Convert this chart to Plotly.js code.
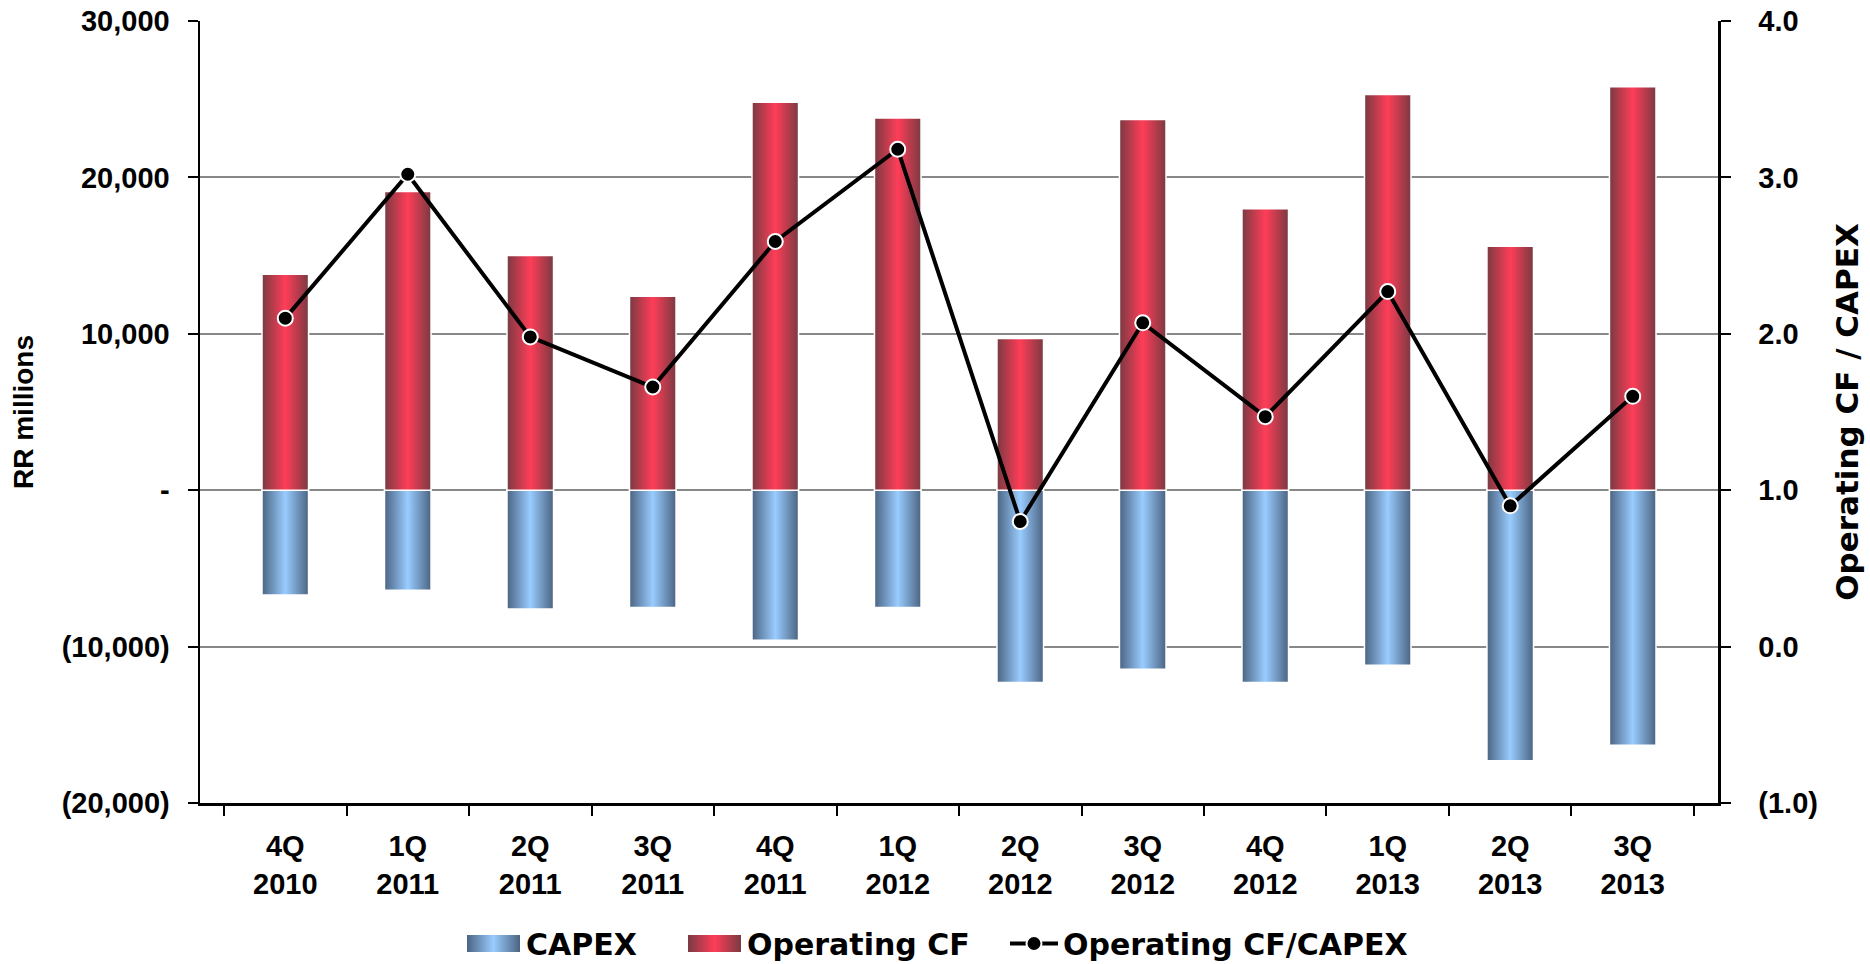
<!DOCTYPE html>
<html>
<head>
<meta charset="utf-8">
<script src="https://cdn.plot.ly/plotly-3.0.1.min.js"></script>
<style>
html,body{margin:0;padding:0;background:#fff;}
#chart{width:1870px;height:964px;}
</style>
</head>
<body>
<div id="chart"></div>
<script>
var quarters = ["4Q<br>2010","1Q<br>2011","2Q<br>2011","3Q<br>2011","4Q<br>2011","1Q<br>2012","2Q<br>2012","3Q<br>2012","4Q<br>2012","1Q<br>2013","2Q<br>2013","3Q<br>2013"];
var capex = [-6700,-6400,-7600,-7500,-9600,-7500,-12300,-11450,-12300,-11200,-17300,-16300];
var operatingCF = [13800,19100,15000,12400,24800,23800,9700,23700,18000,25300,15600,25800];
var ratio = [2.10,3.02,1.98,1.66,2.59,3.18,0.80,2.07,1.47,2.27,0.90,1.60];
var leftTickVals = [30000,20000,10000,0,-10000,-20000];
var leftTickText = ["30,000","20,000","10,000","-","(10,000)","(20,000)"];
var rightTickVals = [4,3,2,1,0,-1];
var rightTickText = ["4.0","3.0","2.0","1.0","0.0","(1.0)"];

var TICKFONT = {family:"Liberation Sans, Arial, sans-serif", size:29, color:"#000", weight:700};
var LTITLEFONT = {family:"Liberation Sans, Arial, sans-serif", size:28, color:"#000", weight:700};
var RTITLEFONT = {family:"DejaVu Sans, sans-serif", size:31, color:"#000", weight:700};
var LEGFONT = {family:"DejaVu Sans, sans-serif", size:30, color:"#000", weight:700};

var traces = [
  {type:"bar", name:"CAPEX", x:quarters, y:capex, legend:"legend",
   marker:{color:"#99ccff", line:{color:"#ffffff", width:1.5}}},
  {type:"bar", name:"Operating CF", x:quarters, y:operatingCF, legend:"legend2",
   marker:{color:"#ff3d58", line:{color:"#ffffff", width:1.5}}},
  {type:"scatter", mode:"lines+markers", name:"Operating CF/CAPEX", x:quarters, y:ratio, yaxis:"y2", legend:"legend3",
   line:{color:"#000", width:4},
   marker:{color:"#000", size:15, line:{color:"#fff", width:2}}}
];

function leg(xpx, iw){
  return {orientation:"h", xref:"container", yref:"container", x:xpx/1870, xanchor:"left",
          y:(964-943.5)/964, yanchor:"middle", font:LEGFONT, itemwidth:iw,
          bgcolor:"rgba(0,0,0,0)", borderwidth:0};
}

var layout = {
  width:1870, height:964,
  margin:{l:200, r:152, t:21, b:161},
  paper_bgcolor:"#fff", plot_bgcolor:"#fff",
  font:TICKFONT,
  barmode:"relative",
  bargap:0.62,
  showlegend:true,
  legend:leg(461,55),
  legend2:leg(682,55),
  legend3:leg(1005,48),
  xaxis:{type:"category", tickson:"boundaries", ticks:"outside", ticklen:10, tickwidth:2, tickcolor:"#000",
         showline:true, linecolor:"#000", linewidth:2.5, showgrid:false, zeroline:false,
         tickfont:TICKFONT, ticklabelstandoff:16, fixedrange:true},
  yaxis:{range:[-20000,30000], tickvals:leftTickVals, ticktext:leftTickText,
         ticks:"outside", ticklen:10, tickwidth:2, tickcolor:"#000",
         showline:true, linecolor:"#000", linewidth:2.5,
         showgrid:true, gridcolor:"#888", gridwidth:2, zeroline:false,
         tickfont:TICKFONT, ticklabelstandoff:12,
         title:{text:"RR millions", font:LTITLEFONT, standoff:20}},
  yaxis2:{range:[-1,4], tickvals:rightTickVals, ticktext:rightTickText, overlaying:"y", side:"right",
          ticks:"outside", ticklen:10, tickwidth:2, tickcolor:"#000",
          showline:true, linecolor:"#000", linewidth:2.5,
          showgrid:false, zeroline:false, tickfont:TICKFONT, ticklabelstandoff:22,
          title:{text:"Operating CF / CAPEX", font:RTITLEFONT, standoff:20}}
};

function addGradients(gd){
  var svg = gd.querySelector("svg.main-svg");
  if(!svg) return;
  var ns = "http://www.w3.org/2000/svg";
  var defs = svg.querySelector("defs");
  if(!defs){ defs = document.createElementNS(ns,"defs"); svg.insertBefore(defs, svg.firstChild); }
  function mk(id, edge, mid){
    if(defs.querySelector("#"+id)) return;
    var g = document.createElementNS(ns,"linearGradient");
    g.setAttribute("id", id); g.setAttribute("x1","0"); g.setAttribute("x2","1");
    g.setAttribute("y1","0"); g.setAttribute("y2","0");
    [[0,edge],[0.5,mid],[1,edge]].forEach(function(s){
      var st = document.createElementNS(ns,"stop");
      st.setAttribute("offset", s[0]); st.setAttribute("stop-color", s[1]);
      g.appendChild(st);
    });
    defs.appendChild(g);
  }
  mk("gradBlue","#4b6482","#99ccff");
  mk("gradRed","#7a3a42","#ff3d58");
  var ids = ["gradBlue","gradRed"];
  var barTraces = gd.querySelectorAll(".barlayer .trace");
  barTraces.forEach(function(t,i){
    t.querySelectorAll("path").forEach(function(p){ p.style.fill = "url(#"+ids[i]+")"; });
  });
  ["legend","legend2"].forEach(function(cls,i){
    var L = gd.querySelector("g." + cls);
    if(!L) return;
    L.querySelectorAll(".legendpoints path").forEach(function(p){
      p.setAttribute("d","M26.5,8.5H-26.5V-8.5H26.5Z");
      p.setAttribute("transform","translate(32.5,0)");
      p.style.fill = "url(#"+ids[i]+")";
      p.style.stroke = "none";
    });
  });
}

var gd = document.getElementById("chart");
Plotly.newPlot(gd, traces, layout, {displayModeBar:false, staticPlot:true}).then(function(){
  addGradients(gd);
  gd.on("plotly_afterplot", function(){ addGradients(gd); });
});
</script>
</body>
</html>
